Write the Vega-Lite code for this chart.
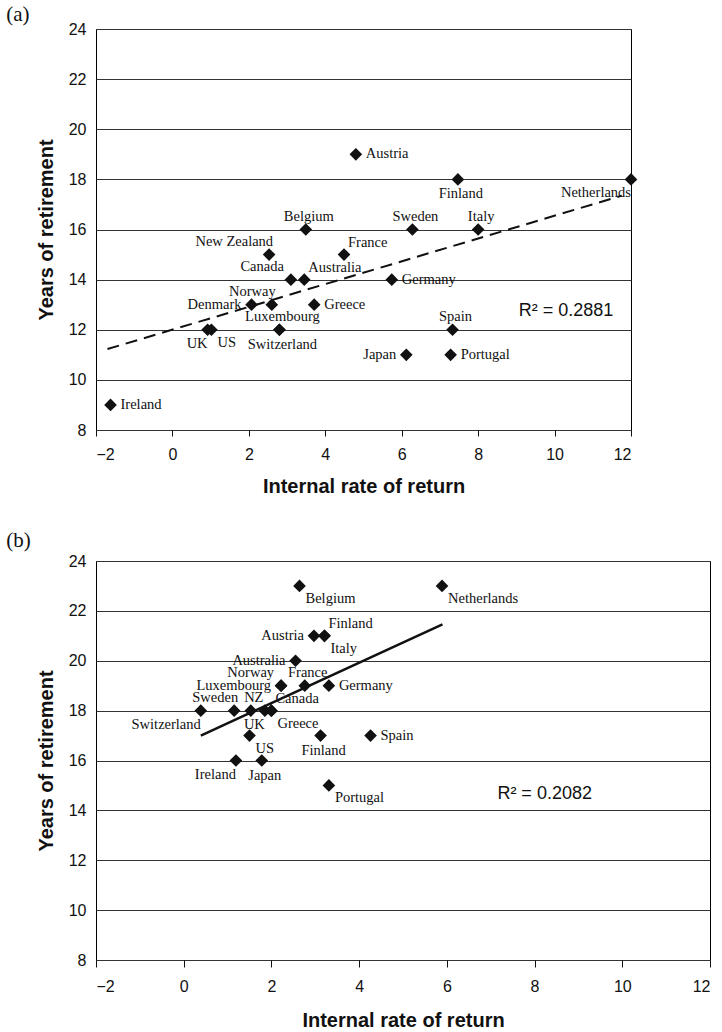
{
  "$schema": "https://vega.github.io/schema/vega-lite/v6.json",
  "background": "white",
  "padding": {"left": 5, "top": 3, "right": 0, "bottom": 0},
  "spacing": 32,
  "config": {
    "view": {"stroke": "black", "strokeWidth": 1},
    "axis": {
      "labelFont": "Liberation Sans", "labelFontSize": 16, "labelColor": "#111",
      "titleFont": "Liberation Sans", "titleFontSize": 20, "titleFontWeight": "bold", "titleColor": "#111",
      "domain": false, "tickColor": "#111", "gridColor": "#333", "gridWidth": 1, "gridOpacity": 1
    },
    "title": {"font": "Liberation Serif", "fontSize": 21, "fontWeight": "normal", "color": "#111", "anchor": "start", "frame": "bounds", "dx": -30},
    "text": {"font": "Liberation Serif", "fontSize": 14.5, "color": "#111", "baseline": "middle"}
  },
  "datasets": {
    "a": [
      {"country": "Austria", "irr": 4.8, "years": 19, "pos": "r"},
      {"country": "Finland", "irr": 7.47, "years": 18, "pos": "b"},
      {"country": "Netherlands", "irr": 12.0, "years": 18, "pos": "bl"},
      {"country": "Belgium", "irr": 3.49, "years": 16, "pos": "t"},
      {"country": "Sweden", "irr": 6.28, "years": 16, "pos": "t"},
      {"country": "Italy", "irr": 8.0, "years": 16, "pos": "t"},
      {"country": "New Zealand", "irr": 2.53, "years": 15, "pos": "tl"},
      {"country": "France", "irr": 4.49, "years": 15, "pos": "tr"},
      {"country": "Canada", "irr": 3.1, "years": 14, "pos": "tl2"},
      {"country": "Australia", "irr": 3.45, "years": 14, "pos": "tr"},
      {"country": "Germany", "irr": 5.74, "years": 14, "pos": "r"},
      {"country": "Denmark", "irr": 2.07, "years": 13, "pos": "l"},
      {"country": "Norway", "irr": 2.6, "years": 13, "pos": "tl"},
      {"country": "Greece", "irr": 3.71, "years": 13, "pos": "r"},
      {"country": "Luxembourg", "irr": 2.8, "years": 12, "pos": "t"},
      {"country": "Switzerland", "irr": 2.8, "years": 12, "pos": "b"},
      {"country": "UK", "irr": 0.92, "years": 12, "pos": "bl"},
      {"country": "US", "irr": 1.02, "years": 12, "pos": "br"},
      {"country": "Spain", "irr": 7.33, "years": 12, "pos": "t"},
      {"country": "Japan", "irr": 6.12, "years": 11, "pos": "l"},
      {"country": "Portugal", "irr": 7.28, "years": 11, "pos": "r"},
      {"country": "Ireland", "irr": -1.62, "years": 9, "pos": "r"}
    ],
    "b": [
      {"country": "Belgium", "irr": 2.64, "years": 23, "pos": "br"},
      {"country": "Netherlands", "irr": 5.89, "years": 23, "pos": "br"},
      {"country": "Austria", "irr": 2.97, "years": 21, "pos": "l"},
      {"country": "Finland", "irr": 3.21, "years": 21, "pos": "tr"},
      {"country": "Italy", "irr": 3.21, "years": 21, "pos": "br"},
      {"country": "Australia", "irr": 2.55, "years": 20, "pos": "l"},
      {"country": "Norway", "irr": 2.22, "years": 19, "pos": "tl2"},
      {"country": "Luxembourg", "irr": 2.22, "years": 19, "pos": "l"},
      {"country": "France", "irr": 2.76, "years": 19, "pos": "t"},
      {"country": "Germany", "irr": 3.31, "years": 19, "pos": "r"},
      {"country": "Switzerland", "irr": 0.39, "years": 18, "pos": "bl"},
      {"country": "Sweden", "irr": 1.15, "years": 18, "pos": "tl"},
      {"country": "NZ", "irr": 1.53, "years": 18, "pos": "t"},
      {"country": "UK", "irr": 1.85, "years": 18, "pos": "bl"},
      {"country": "Canada", "irr": 2.0, "years": 18, "pos": "tr"},
      {"country": "Greece", "irr": 2.0, "years": 18, "pos": "br"},
      {"country": "US", "irr": 1.5, "years": 17, "pos": "br"},
      {"country": "Finland", "irr": 3.12, "years": 17, "pos": "b"},
      {"country": "Spain", "irr": 4.26, "years": 17, "pos": "r"},
      {"country": "Ireland", "irr": 1.19, "years": 16, "pos": "bl"},
      {"country": "Japan", "irr": 1.78, "years": 16, "pos": "b"},
      {"country": "Portugal", "irr": 3.31, "years": 15, "pos": "br"}
    ],
    "trendA": [{"irr": -1.7, "years": 11.23}, {"irr": 11.76, "years": 17.35}],
    "trendB": [{"irr": 0.39, "years": 17.0}, {"irr": 5.9, "years": 21.46}],
    "r2A": [{"label": "R² = 0.2881", "irr": 10.3, "years": 12.75}],
    "r2B": [{"label": "R² = 0.2082", "irr": 8.23, "years": 14.64}]
  },
  "vconcat": [
    {
      "width": 535, "height": 401,
      "title": {"text": "(a)", "offset": -4},
      "data": {"name": "a"},
      "encoding": {
        "x": {"field": "irr", "type": "quantitative", "title": "Internal rate of return",
          "scale": {"domain": [-2, 12], "nice": false, "zero": false},
          "axis": {"values": [-2, 0, 2, 4, 6, 8, 10, 12], "grid": false, "tickSize": 6, "labelPadding": 10, "titlePadding": 14}},
        "y": {"field": "years", "type": "quantitative", "title": "Years of retirement",
          "scale": {"domain": [8, 24], "nice": false, "zero": false},
          "axis": {"values": [8, 10, 12, 14, 16, 18, 20, 22, 24], "grid": true, "ticks": false, "labelPadding": 10, "titlePadding": 12}}
      },
      "layer": [
        {"data": {"values": [{}]}, "mark": {"type": "rule", "color": "#111", "strokeWidth": 1.5},
          "encoding": {"x": {"datum": 0, "type": "quantitative"}, "y": {"datum": 8, "type": "quantitative"}, "y2": {"datum": 24}}},
        {"data": {"name": "trendA"}, "mark": {"type": "line", "color": "#111", "strokeWidth": 2, "strokeDash": [12, 7]}},
        {"mark": {"type": "point", "shape": "diamond", "filled": true, "color": "#111", "opacity": 1, "size": 160}},
        {"transform": [{"filter": "datum.pos === 'r'"}], "mark": {"type": "text", "align": "left", "dx": 10, "dy": 0}, "encoding": {"text": {"field": "country"}}},
        {"transform": [{"filter": "datum.pos === 'l'"}], "mark": {"type": "text", "align": "right", "dx": -10, "dy": 0}, "encoding": {"text": {"field": "country"}}},
        {"transform": [{"filter": "datum.pos === 't'"}], "mark": {"type": "text", "align": "center", "dx": 3, "dy": -13}, "encoding": {"text": {"field": "country"}}},
        {"transform": [{"filter": "datum.pos === 'b'"}], "mark": {"type": "text", "align": "center", "dx": 3, "dy": 15}, "encoding": {"text": {"field": "country"}}},
        {"transform": [{"filter": "datum.pos === 'tl'"}], "mark": {"type": "text", "align": "right", "dx": 4, "dy": -13}, "encoding": {"text": {"field": "country"}}},
        {"transform": [{"filter": "datum.pos === 'tl2'"}], "mark": {"type": "text", "align": "right", "dx": -7, "dy": -13}, "encoding": {"text": {"field": "country"}}},
        {"transform": [{"filter": "datum.pos === 'tr'"}], "mark": {"type": "text", "align": "left", "dx": 4, "dy": -12}, "encoding": {"text": {"field": "country"}}},
        {"transform": [{"filter": "datum.pos === 'bl'"}], "mark": {"type": "text", "align": "right", "dx": 0, "dy": 14}, "encoding": {"text": {"field": "country"}}},
        {"transform": [{"filter": "datum.pos === 'br'"}], "mark": {"type": "text", "align": "left", "dx": 6, "dy": 13}, "encoding": {"text": {"field": "country"}}},
        {"data": {"name": "r2A"}, "mark": {"type": "text", "font": "Liberation Sans", "fontSize": 18, "align": "center", "baseline": "middle"},
          "encoding": {"text": {"field": "label"}}}
      ]
    },
    {
      "width": 614, "height": 399,
      "title": {"text": "(b)", "offset": 2},
      "data": {"name": "b"},
      "encoding": {
        "x": {"field": "irr", "type": "quantitative", "title": "Internal rate of return",
          "scale": {"domain": [-2, 12], "nice": false, "zero": false},
          "axis": {"values": [-2, 0, 2, 4, 6, 8, 10, 12], "grid": false, "tickSize": 7, "labelPadding": 11, "titlePadding": 16}},
        "y": {"field": "years", "type": "quantitative", "title": "Years of retirement",
          "scale": {"domain": [8, 24], "nice": false, "zero": false},
          "axis": {"values": [8, 10, 12, 14, 16, 18, 20, 22, 24], "grid": true, "ticks": false, "labelPadding": 10, "titlePadding": 12}}
      },
      "layer": [
        {"data": {"values": [{}]}, "mark": {"type": "rule", "color": "#111", "strokeWidth": 1.5},
          "encoding": {"x": {"datum": 0, "type": "quantitative"}, "y": {"datum": 8, "type": "quantitative"}, "y2": {"datum": 24}}},
        {"data": {"name": "trendB"}, "mark": {"type": "line", "color": "#111", "strokeWidth": 2.5}},
        {"mark": {"type": "point", "shape": "diamond", "filled": true, "color": "#111", "opacity": 1, "size": 160}},
        {"transform": [{"filter": "datum.pos === 'r'"}], "mark": {"type": "text", "align": "left", "dx": 10, "dy": 0}, "encoding": {"text": {"field": "country"}}},
        {"transform": [{"filter": "datum.pos === 'l'"}], "mark": {"type": "text", "align": "right", "dx": -10, "dy": 0}, "encoding": {"text": {"field": "country"}}},
        {"transform": [{"filter": "datum.pos === 't'"}], "mark": {"type": "text", "align": "center", "dx": 3, "dy": -13}, "encoding": {"text": {"field": "country"}}},
        {"transform": [{"filter": "datum.pos === 'b'"}], "mark": {"type": "text", "align": "center", "dx": 3, "dy": 15}, "encoding": {"text": {"field": "country"}}},
        {"transform": [{"filter": "datum.pos === 'tl'"}], "mark": {"type": "text", "align": "right", "dx": 4, "dy": -13}, "encoding": {"text": {"field": "country"}}},
        {"transform": [{"filter": "datum.pos === 'tl2'"}], "mark": {"type": "text", "align": "right", "dx": -7, "dy": -13}, "encoding": {"text": {"field": "country"}}},
        {"transform": [{"filter": "datum.pos === 'tr'"}], "mark": {"type": "text", "align": "left", "dx": 4, "dy": -12}, "encoding": {"text": {"field": "country"}}},
        {"transform": [{"filter": "datum.pos === 'bl'"}], "mark": {"type": "text", "align": "right", "dx": 0, "dy": 14}, "encoding": {"text": {"field": "country"}}},
        {"transform": [{"filter": "datum.pos === 'br'"}], "mark": {"type": "text", "align": "left", "dx": 6, "dy": 13}, "encoding": {"text": {"field": "country"}}},
        {"data": {"name": "r2B"}, "mark": {"type": "text", "font": "Liberation Sans", "fontSize": 18, "align": "center", "baseline": "middle"},
          "encoding": {"text": {"field": "label"}}}
      ]
    }
  ]
}
